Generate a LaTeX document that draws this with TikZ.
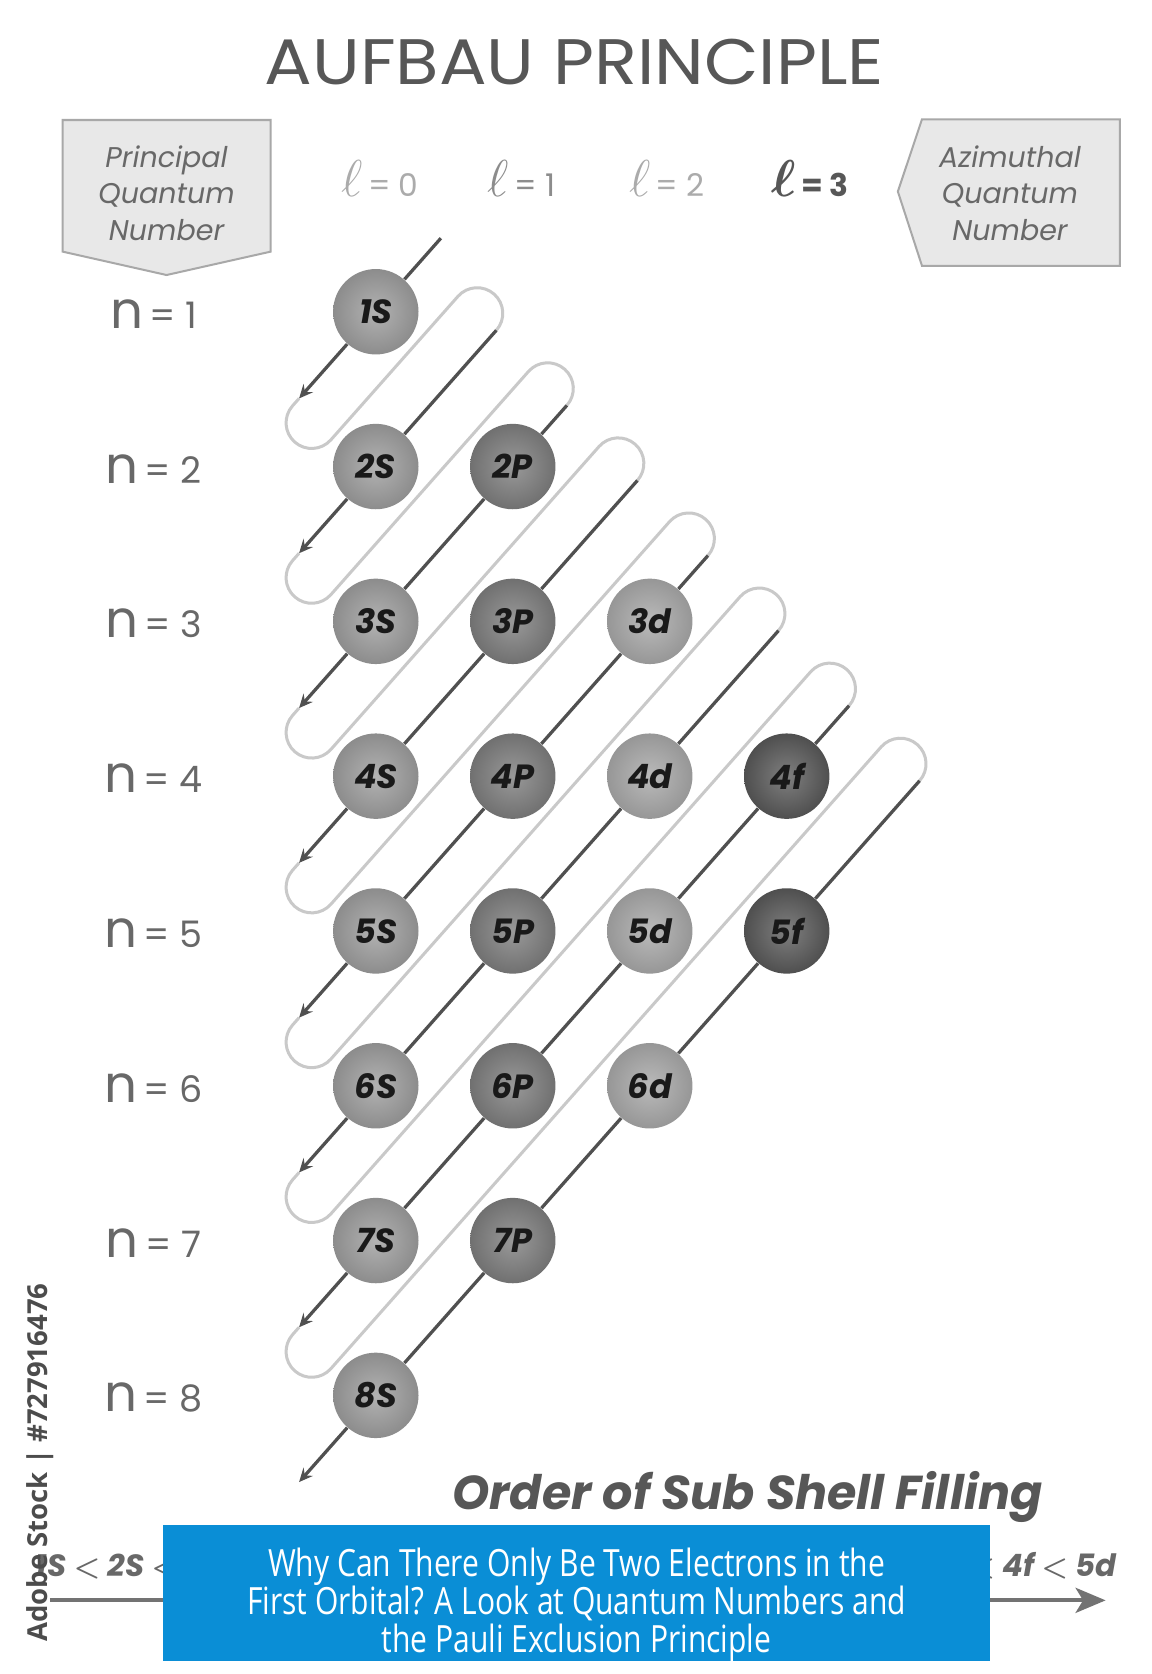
\documentclass[tikz,border=0pt]{standalone}
\usepackage{amsmath}
\usepackage{fontspec}
\setmainfont{Poppins}
\newfontfamily\condfont{Open Sans}[FakeStretch=0.8]
\newfontfamily\stockfont{Open Sans}
\usetikzlibrary{arrows.meta,calc}
\definecolor{txtgray}{HTML}{575757}
\definecolor{lblgray}{HTML}{686868}
\definecolor{ellgray}{HTML}{ABABAB}
\definecolor{linedark}{HTML}{505050}
\definecolor{tubegray}{HTML}{C9C9C9}
\definecolor{boxfill}{HTML}{E8E8E8}
\definecolor{boxline}{HTML}{A8A8A8}
\definecolor{bannerblue}{HTML}{0A8ED6}
\newcommand\ordlt{{\boldmath$<$}}

\begin{document}
\begin{tikzpicture}[x=0.15mm,y=-0.15mm]

    \tikzset{
      orb/.style = { circle, minimum size = 12mm, inner sep = 0pt,
                     font = \fontsize{13.4}{16}\selectfont\bfseries\itshape, text = black!90 },
      orbS/.style = { orb, inner color = black!30, outer color = black!45 },
      orbP/.style = { orb, inner color = black!40, outer color = black!56 },
      orbD/.style = { orb, inner color = black!27, outer color = black!41 },
      orbF/.style = { orb, inner color = black!50, outer color = black!69 },
      orbline/.style = { linedark, line width = 1.3pt,
                         -{Stealth[length = 5.5pt, width = 5pt, inset = 2pt]} },
      tube/.style = { tubegray, line width = 1.2pt, rounded corners = 3.6mm },
      nlabel/.style = { text = lblgray },
      ell/.style = { text = ellgray },
      seqtext/.style = { inner sep = 0pt, text = lblgray,
                         font = \fontsize{12.3}{15}\selectfont\bfseries\itshape },
      pbox/.style = { fill = boxfill, draw = boxline, line width = 0.8pt },
      ptext/.style = { align = center, text = lblgray,
                       font = \fontsize{11.4}{14.7}\selectfont\itshape },
      scalearrow/.style = { black!55, line width = 1.6pt,
                            -{Stealth[length = 12pt, width = 10pt, inset = 3pt]} },
      banner/.style = { fill = bannerblue, minimum width = 116.3mm,
                        minimum height = 19.2mm, inner sep = 0pt } }

    \fill[white] (0,0) rectangle (1079,1568);
    \useasboundingbox (0,0) rectangle (1079,1568);

    \node[text = txtgray, xscale = 1.1, font = \fontsize{25.7}{30}\selectfont] (title) at (538,58.5) {AUFBAU PRINCIPLE};

    % quantum number boxes
    \draw[pbox] (58.7,112.4) -- (253.5,112.4) -- (253.5,235.7) -- (156,257.6) -- (58.7,235.7) -- cycle;
    \node[ptext] (pqn) at (156,181) {Principal\\Quantum\\Number};
    \draw[pbox] (863.6,111.7) -- (1049,111.7) -- (1049,249) -- (863.6,249) -- (841,179.4) -- cycle;
    \node[ptext] (aqn) at (946,181) {Azimuthal\\Quantum\\Number};

    \node[ell] (l0) at (356,167) {\fontsize{20}{24}\selectfont$\ell$\fontsize{12.5}{14}\selectfont\,= 0};
    \node[ell, text = black!45] (l1) at (488.5,167) {\fontsize{20}{24}\selectfont$\ell$\fontsize{12.5}{14}\selectfont\,= 1};
    \node[ell] (l2) at (624.6,167) {\fontsize{20}{24}\selectfont$\ell$\fontsize{12.5}{14}\selectfont\,= 2};
    \node[text = txtgray] (l3) at (758.8,167) {\fontsize{20}{24}\selectfont$\boldsymbol{\ell}$\fontsize{12.5}{14}\selectfont\bfseries\,= 3};

    \foreach \n in {1,...,8}
      \node[nlabel] (n\n) at (143.8,{294+145*(\n-1)})
        {\fontsize{20.6}{24}\selectfont n\fontsize{14.6}{17}\selectfont\,= \n};

    % orbitals
    \foreach \n in {1,...,8}
      \node[orbS] (o\n s) at (352,{292+145*(\n-1)}) {\n S};
    \foreach \n in {2,...,7}
      \node[orbP] (o\n p) at (480.3,{292+145*(\n-1)}) {\n P};
    \foreach \n in {3,...,6}
      \node[orbD] (o\n d) at (608.6,{292+145*(\n-1)}) {\n d};
    \foreach \n in {4,5}
      \node[orbF] (o\n f) at (736.9,{292+145*(\n-1)}) {\n f};

    % turning points of the filling path
    \foreach \k in {1,...,8}{
      \pgfmathsetmacro\yk{292+145*(\k-1)}
      \pgfmathsetmacro\ts{ifthenelse(\k==1,0.475,0.88+0.515*(\k-2))}
      \pgfmathsetmacro\tb{\ts+0.124}
      \coordinate (top\k) at ({352+128.3*\ts},{\yk-145*\ts});
      \coordinate (tip\k) at ({352-128.3*0.56},{\yk+145*0.56});
      \coordinate (bl\k) at ({352-128.3*0.732},{\yk+145*0.732});
      \coordinate (br\k) at ($(bl\k)+(35.95,31.8)$);
      \coordinate (tr\k) at ({352+128.3*\tb},{\yk-145*\tb});
      \coordinate (tl\k) at ($(tr\k)-(35.95,31.8)$);
    }

    \foreach \k [evaluate = \k as \j using int(\k+1)] in {1,...,7}
      \draw[tube] (tip\k) -- (bl\k) -- (br\k) -- (tl\j) -- (tr\j) -- (top\j);

    \draw[orbline] (top1) -- (o1s) -- (tip1);
    \draw[orbline] (top2) -- (o2s) -- (tip2);
    \draw[orbline] (top3) -- (o2p) -- (o3s) -- (tip3);
    \draw[orbline] (top4) -- (o3p) -- (o4s) -- (tip4);
    \draw[orbline] (top5) -- (o3d) -- (o4p) -- (o5s) -- (tip5);
    \draw[orbline] (top6) -- (o4d) -- (o5p) -- (o6s) -- (tip6);
    \draw[orbline] (top7) -- (o4f) -- (o5d) -- (o6p) -- (o7s) -- (tip7);
    \draw[orbline] (top8) -- (o5f) -- (o6d) -- (o7p) -- (o8s) -- (tip8);

    \node[text = txtgray, font = \fontsize{19}{22}\selectfont\bfseries\itshape] (order) at (700,1402)
      {Order of Sub Shell Filling};

    % filling sequence, its middle hidden by the banner
    \node[seqtext, anchor = west] (seqL) at (33,1467) {1S \ordlt{} 2S \ordlt};
    \node[seqtext, anchor = east] (seqR) at (1046,1467) {\ordlt{} 4f \ordlt{} 5d};
    \coordinate (scaleL) at (46.8,1499);
    \coordinate (scaleR) at (1035.6,1499);
    \draw[scalearrow] (scaleL) -- (scaleR);

    \node[rotate = 90, text = black!70, font = \stockfont\fontsize{11}{13}\selectfont\bfseries] (stock) at (38,1370)
      {Adobe Stock | \#727916476};

    \node[banner] (banner) at (540,1492) {};
    \node[align = center, text = white, font = \condfont\fontsize{15}{15.2}\selectfont] (bannertext) at (540,1503)
      {Why Can There Only Be Two Electrons in the\\First Orbital? A Look at Quantum Numbers and\\the Pauli Exclusion Principle};
    \end{tikzpicture}
\end{document}
